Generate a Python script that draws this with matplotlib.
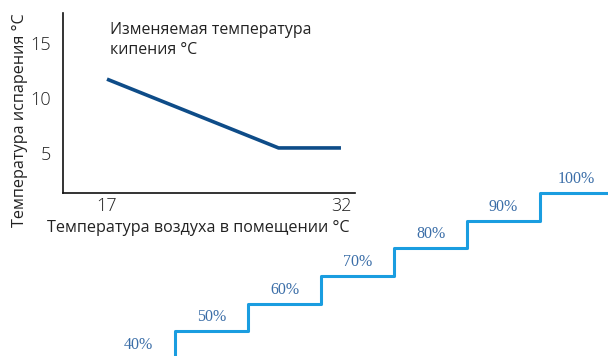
import numpy as np
import matplotlib
matplotlib.use("Agg")
import matplotlib.pyplot as plt

# ---- data ----
room_temp = [17, 28, 32]            # Температура воздуха в помещении °C
evap_temp = [11.7, 5.5, 5.5]        # Температура испарения °C
x_ticks = [17, 32]
y_ticks = [5, 10, 15]
step_pcts = [40, 50, 60, 70, 80, 90, 100]

W, H = 608, 356
DPI = 100
fig = plt.figure(figsize=(W / DPI, H / DPI), dpi=DPI)
fig.patch.set_facecolor("white")

SANS = ["Open Sans", "DejaVu Sans"]

def fx(px):
    return px / W

def fy(py):
    return 1 - py / H

# ---- main chart ----
ax = fig.add_axes([fx(63), fy(193), fx(355) - fx(63), fy(13) - fy(193)])
ax.plot(room_temp, evap_temp, color="#0e4c88", lw=2.6, solid_capstyle="butt")
ax.set_xlim(14.18, 32.9)
ax.set_ylim(1.44, 17.66)
ax.set_xticks(x_ticks)
ax.set_yticks(y_ticks)
ax.tick_params(length=0, labelsize=13, colors="#222222")
ax.tick_params(axis="y", pad=9)
ax.tick_params(axis="x", pad=3)
for lab in ax.get_xticklabels() + ax.get_yticklabels():
    lab.set_family(SANS)
    lab.set_fontweight("light")
for s in ["top", "right"]:
    ax.spines[s].set_visible(False)
for s in ["left", "bottom"]:
    ax.spines[s].set_linewidth(1.2)
    ax.spines[s].set_color("#111111")
ax.set_facecolor("none")

fig.text(fx(110), fy(40), "Изменяемая температура\nкипения °C", family=SANS,
         fontsize=11.4, color="#222222", va="center", ha="left", linespacing=1.3)
fig.text(fx(198), fy(228), "Температура воздуха в помещении °C", family=SANS,
         fontsize=11.6, color="#222222", va="center", ha="center")
fig.text(fx(20), fy(120), "Температура испарения °C", family=SANS,
         fontsize=11.6, color="#222222", va="center", ha="center", rotation=90)

# ---- staircase ----
ax2 = fig.add_axes([0, 0, 1, 1])
ax2.set_facecolor("none")
ax2.axis("off")
# segment i centred at pixel 138.5 + 73*i ; level 40 at pixel 359, 27.7 px per 10 %
ax2.set_xlim((0 - 138.5) / 73, (W - 138.5) / 73)
ax2.set_ylim(40 + (359 - H) / 2.77, 40 + 359 / 2.77)
n = len(step_pcts)
edges = np.arange(n + 1) - 0.5
ax2.step(edges, np.r_[step_pcts, step_pcts[-1]], where="post",
         color="#1a9de0", lw=2.2)
for i, p in enumerate(step_pcts):
    ax2.annotate(f"{p}%", (i, p), xytext=(0, 10), textcoords="offset points",
                 ha="center", va="center", family=["Liberation Serif", "DejaVu Serif"],
                 fontsize=11.5, color="#3b6ea8", annotation_clip=False)

fig.savefig("out.png", dpi=DPI, facecolor="white")
